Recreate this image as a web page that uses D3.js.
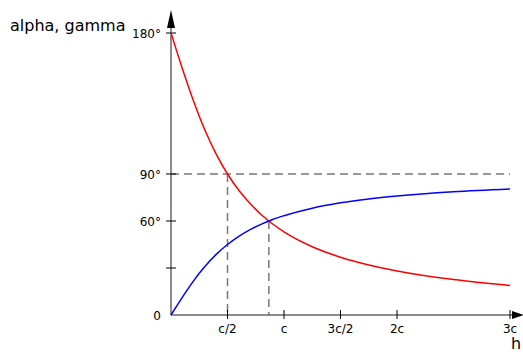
<!DOCTYPE html>
<html>
<head>
<meta charset="utf-8">
<script src="https://cdn.jsdelivr.net/npm/d3@7"></script>
<style>
  body { margin: 0; background: #fff; }
  svg { font-family: "DejaVu Sans", sans-serif; }
</style>
</head>
<body>
<svg id="chart" width="523" height="352"></svg>
<script>
// h in units of c
const hValues = [0, 0.05, 0.1, 0.15, 0.2, 0.25, 0.3, 0.4, 0.5, 0.6, 0.7, 0.8, 0.9, 1.0, 1.25, 1.5, 1.75, 2.0, 2.5, 3.0];
const alphaValues = [180, 168.6, 157.4, 146.6, 136.4, 126.9, 118.1, 102.7, 90, 79.6, 71.1, 64.0, 58.1, 53.1, 43.6, 36.9, 31.9, 28.1, 22.6, 18.9];
const gammaValues = [0, 5.7, 11.3, 16.7, 21.8, 26.6, 31.0, 38.7, 45, 50.2, 54.5, 58.0, 61.0, 63.4, 68.2, 71.6, 74.1, 76.0, 78.7, 80.5];

const xTicks = [0.5, 1, 1.5, 2, 3];
const xTickLabels = ["c/2", "c", "3c/2", "2c", "3c"];
const yTicks = [30, 60, 90, 180];
const yTickLabels = ["", "60°", "90°", "180°"];

// dashed guides: [h, angle]
const guides = [[0.5, 90], [0.866, 60]];

const svg = d3.select("#chart");
const x = d3.scaleLinear().domain([0, 3]).range([171, 510]);
const y = d3.scaleLinear().domain([0, 180]).range([315, 33]);
const axisColor = "#666";
const dashColor = "#777";

// dashed horizontal line at 90°
svg.append("line")
    .attr("x1", x(0)).attr("x2", x(3))
    .attr("y1", y(90)).attr("y2", y(90))
    .attr("stroke", dashColor).attr("stroke-width", 1.5)
    .attr("stroke-dasharray", "8,5");

svg.selectAll(".guide")
    .data(guides)
    .enter()
    .append("line")
    .attr("class", "guide")
    .attr("x1", d => x(d[0])).attr("x2", d => x(d[0]))
    .attr("y1", d => y(d[1])).attr("y2", y(0))
    .attr("stroke", dashColor).attr("stroke-width", 1.5)
    .attr("stroke-dasharray", "8,5");

// axes
svg.append("line")
    .attr("x1", x(0)).attr("x2", x(0))
    .attr("y1", y(0)).attr("y2", 20)
    .attr("stroke", axisColor).attr("stroke-width", 1.5);
svg.append("line")
    .attr("x1", x(0)).attr("x2", 515)
    .attr("y1", y(0)).attr("y2", y(0))
    .attr("stroke", axisColor).attr("stroke-width", 1.5);

// arrows
svg.append("path")
    .attr("d", `M${x(0)},10 L${x(0) - 4},28 L${x(0) + 4},28 Z`)
    .attr("fill", "#000");
svg.append("path")
    .attr("d", `M524,${y(0)} L512,${y(0) - 4} L512,${y(0) + 4} Z`)
    .attr("fill", "#000");

// y ticks
svg.selectAll(".ytick")
    .data(yTicks)
    .enter()
    .append("line")
    .attr("class", "ytick")
    .attr("x1", x(0) - 5).attr("x2", x(0) + 5)
    .attr("y1", d => y(d)).attr("y2", d => y(d))
    .attr("stroke", "#000").attr("stroke-width", 1);

svg.selectAll(".ylabel")
    .data(yTicks)
    .enter()
    .append("text")
    .attr("class", "ylabel")
    .attr("x", 161)
    .attr("y", d => y(d) + 5)
    .attr("text-anchor", "end")
    .attr("font-size", 12)
    .text((d, i) => yTickLabels[i]);

svg.append("text")
    .attr("x", 161).attr("y", y(0) + 5)
    .attr("text-anchor", "end")
    .attr("font-size", 12)
    .text("0");

// x ticks
svg.selectAll(".xtick")
    .data(xTicks)
    .enter()
    .append("line")
    .attr("class", "xtick")
    .attr("x1", d => x(d)).attr("x2", d => x(d))
    .attr("y1", y(0) - 5).attr("y2", y(0) + 4)
    .attr("stroke", "#000").attr("stroke-width", 1);

svg.selectAll(".xlabel")
    .data(xTicks)
    .enter()
    .append("text")
    .attr("class", "xlabel")
    .attr("x", d => x(d))
    .attr("y", 333)
    .attr("text-anchor", "middle")
    .attr("font-size", 12)
    .text((d, i) => xTickLabels[i]);

// curves
const line = d3.line()
    .x(d => x(d[0]))
    .y(d => y(d[1]))
    .curve(d3.curveMonotoneX);

svg.append("path")
    .datum(hValues.map((h, i) => [h, alphaValues[i]]))
    .attr("d", line)
    .attr("fill", "none")
    .attr("stroke", "red")
    .attr("stroke-width", 1.5);

svg.append("path")
    .datum(hValues.map((h, i) => [h, gammaValues[i]]))
    .attr("d", line)
    .attr("fill", "none")
    .attr("stroke", "blue")
    .attr("stroke-width", 1.5);

// titles
svg.append("text")
    .attr("x", 10).attr("y", 31)
    .attr("font-size", 16)
    .text("alpha, gamma");

svg.append("text")
    .attr("x", 511).attr("y", 349)
    .attr("font-size", 16)
    .text("h");
</script>
</body>
</html>
